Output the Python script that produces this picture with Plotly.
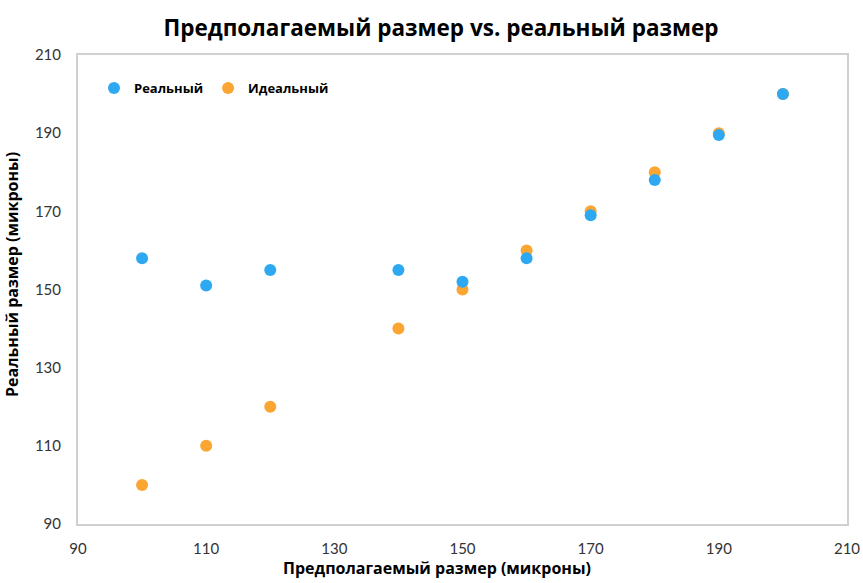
import plotly.graph_objects as go

x_vals = [100, 110, 120, 140, 150, 160, 170, 180, 190, 200]
real_vals = [158, 151, 155, 155, 152, 158, 169, 178, 189.5, 200]
ideal_vals = [100, 110, 120, 140, 150, 160, 170, 180, 190, 200]
tick_vals = [90, 110, 130, 150, 170, 190, 210]

blue = "#2EA9F1"
orange = "#FBA533"

W, H = 863, 583
L, R, T, B = 78, 16, 55, 59

fig = go.Figure()
fig.add_trace(go.Scatter(x=x_vals, y=ideal_vals, mode="markers", name="Идеальный",
                         marker=dict(color=orange, size=12), legendrank=2))
fig.add_trace(go.Scatter(x=x_vals, y=real_vals, mode="markers", name="Реальный",
                         marker=dict(color=blue, size=12), legendrank=1))

pw = W - L - R
ph = H - T - B

fig.update_layout(
    width=W, height=H,
    margin=dict(l=L, r=R, t=T, b=B, autoexpand=False),
    paper_bgcolor="white", plot_bgcolor="white",
    title=dict(text="<b>Предполагаемый размер vs. реальный размер</b>",
               x=(441) / W, xanchor="center", y=1 - 28 / H, yanchor="middle",
               font=dict(family="Open Sans", size=22.5, color="black")),
    legend=dict(orientation="h", x=(94 - L) / pw, y=1 - (73 - T) / ph,
                xanchor="left", yanchor="top",
                font=dict(family="Open Sans", size=13, color="black", weight="bold"),
                bgcolor="rgba(0,0,0,0)", itemwidth=30),
    font=dict(family="Lato", color="#333"),
    annotations=[
        dict(text="<b>Предполагаемый размер (микроны)</b>", xref="paper", yref="paper",
             x=(437 - L) / pw, y=-(568 - (H - B)) / ph, xanchor="center", yanchor="middle",
             showarrow=False, font=dict(family="Open Sans", size=16, color="black")),
        dict(text="<b>Реальный размер (микроны)</b>", xref="paper", yref="paper",
             x=-(L - 12) / pw, y=1 - (275 - T) / ph, xanchor="center", yanchor="middle",
             textangle=-90, showarrow=False,
             font=dict(family="Open Sans", size=16, color="black")),
    ],
)
axis_common = dict(showgrid=False, zeroline=False, showline=True, mirror=True,
                   linecolor="#d0d0d0", linewidth=2, ticks="outside", automargin=False,
                   tickcolor="rgba(0,0,0,0)", tickfont=dict(family="Lato", size=15, color="#333"))
fig.update_xaxes(range=[90, 210], tickvals=tick_vals, ticklen=10, **axis_common)
fig.update_yaxes(range=[90, 210], tickvals=tick_vals, ticklen=12, **axis_common)

fig.write_html("out.html")
